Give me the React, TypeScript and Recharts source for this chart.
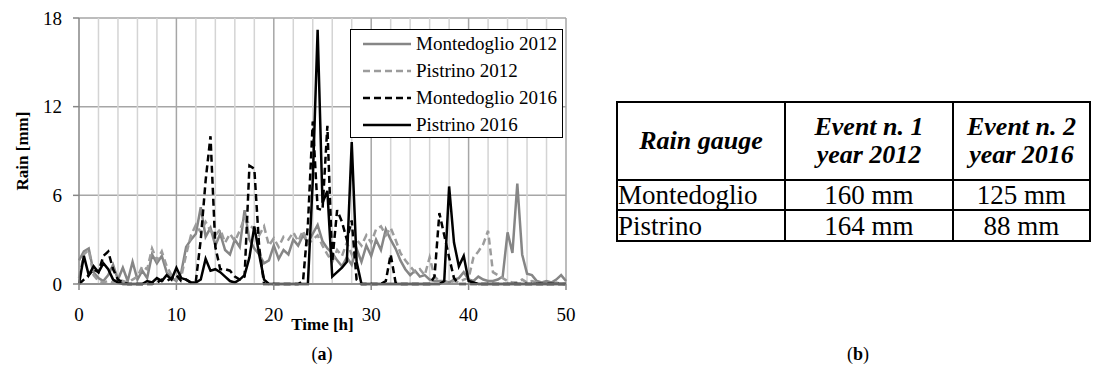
import React from 'react';
import { LineChart, Line, XAxis, YAxis, CartesianGrid, ReferenceLine, Legend, Label } from 'recharts';

const serif = '"Liberation Serif", Tinos, "Times New Roman", Times, "DejaVu Serif", serif';

// time in hours, half-hour steps
const hours = [
  0, 0.5, 1, 1.5, 2, 2.5, 3, 3.5, 4, 4.5,
  5, 5.5, 6, 6.5, 7, 7.5, 8, 8.5, 9, 9.5,
  10, 10.5, 11, 11.5, 12, 12.5, 13, 13.5, 14, 14.5,
  15, 15.5, 16, 16.5, 17, 17.5, 18, 18.5, 19, 19.5,
  20, 20.5, 21, 21.5, 22, 22.5, 23, 23.5, 24, 24.5,
  25, 25.5, 26, 26.5, 27, 27.5, 28, 28.5, 29, 29.5,
  30, 30.5, 31, 31.5, 32, 32.5, 33, 33.5, 34, 34.5,
  35, 35.5, 36, 36.5, 37, 37.5, 38, 38.5, 39, 39.5,
  40, 40.5, 41, 41.5, 42, 42.5, 43, 43.5, 44, 44.5,
  45, 45.5, 46, 46.5, 47, 47.5, 48, 48.5, 49, 49.5, 50,
];

const montedoglio2012 = [
  1.6, 2.2, 2.4, 0.8, 0.4, 0.2, 0.6, 1.3, 0.3, 1.1,
  0.2, 1.5, 0.3, 0.9, 0.4, 2.0, 1.4, 1.9, 0.8, 0.4,
  0.2, 0.8, 2.5, 3.0, 3.4, 5.2, 3.2, 3.8, 2.6, 3.4,
  2.3, 2.0, 3.0, 2.5, 5.0, 3.0, 2.4, 2.0, 1.4, 1.6,
  2.6, 1.7, 2.3, 2.0, 3.0, 2.6, 3.3, 2.8, 3.4, 4.0,
  2.9, 2.4, 2.1, 1.6, 1.2, 1.8, 1.3, 2.4, 1.5, 2.6,
  1.9, 3.0, 2.3, 3.7, 3.0, 2.4, 1.6, 1.0, 0.6, 0.9,
  0.5, 0.6, 0.3, 0.2, 0.2, 0.2, 0.1, 0.3, 0.4, 0.8,
  0.3, 0.2, 0.5, 0.3, 0.2, 0.2, 0.3, 0.5, 3.5, 2.1,
  6.8, 2.0, 0.7, 0.6, 0.2, 0.1, 0.2, 0.1, 0.3, 0.6, 0.2,
];

const pistrino2012 = [
  0.4, 2.0, 2.3, 0.6, 0.2, 0.1, 0.2, 0.1, 0.3, 0.2,
  0.1, 0.3, 0.5, 1.2, 1.0, 2.4, 1.6, 2.2, 1.2, 0.6,
  0.3, 0.5, 2.0, 3.3, 4.0, 3.5, 4.2, 3.6, 3.3, 3.7,
  2.8, 3.4, 2.9, 3.6, 4.5, 4.0, 3.7, 3.3, 3.9, 2.6,
  3.1, 2.5, 3.2, 3.0, 3.5, 2.9, 3.6, 2.7, 3.0, 3.3,
  2.6, 2.0, 1.5, 2.3, 1.9, 2.8, 2.0, 3.0, 2.6, 3.3,
  2.8, 3.7, 3.9, 3.3, 3.8, 3.0, 2.1, 1.6, 1.2, 0.8,
  1.0, 0.6, 1.8, 0.5, 0.2, 0.1, 0.1, 0.2, 0.1, 0.3,
  0.4, 1.8, 2.2, 2.7, 3.6, 0.8, 0.6, 0.4, 0.2, 0.1,
  0.1, 0.3, 0.1, 0.2, 0.1, 0.1, 0, 0, 0.1, 0, 0,
];

const montedoglio2016 = [
  0, 0.3, 0.6, 1.0, 0.8, 1.9, 2.2, 1.0, 0.3, 0.1,
  0, 0, 0, 0, 0, 0, 0.1, 0.3, 0.2, 0.4,
  0.6, 0.2, 0.3, 0.1, 0.2, 3.0, 7.0, 10.0, 2.5, 1.0,
  1.0, 0.9, 0.5, 0.3, 0.5, 8.0, 7.8, 2.5, 0, 0,
  0, 0, 0, 0, 0, 0, 0.2, 4.0, 11.0, 5.1,
  5.0, 10.7, 1.5, 5.0, 4.2, 3.0, 4.3, 0.3, 0, 0,
  0, 0, 0, 0.2, 2.0, 0.1, 0, 0, 0, 0,
  0, 0, 0, 0.5, 4.8, 3.3, 1.8, 0.4, 0, 0,
  0, 0, 0, 0, 0, 0, 0, 0, 0, 0,
  0, 0, 0, 0, 0, 0, 0, 0, 0, 0, 0,
];

const pistrino2016 = [
  0, 1.9, 0.6, 1.2, 0.8, 1.4, 1.0, 0.3, 0.1, 0,
  0, 0, 0, 0, 0.2, 0.1, 0.4, 0.2, 0.6, 0.3,
  1.1, 0.4, 0.3, 0.1, 0.1, 0.3, 1.7, 0.9, 1.0, 0.8,
  0.5, 0.2, 0.1, 0.3, 0.6, 1.8, 3.9, 2.0, 0.3, 0,
  0, 0, 0, 0, 0, 0, 0, 0, 7.0, 17.2,
  5.5, 6.3, 0.5, 0.8, 1.1, 1.5, 9.6, 1.5, 0, 0,
  0, 0, 0, 0, 0, 0, 0, 0, 0, 0,
  0, 0, 0, 0, 0, 0.2, 6.6, 2.8, 1.2, 1.9,
  0.2, 0.1, 0, 0, 0, 0, 0, 0, 0, 0,
  0, 0, 0, 0, 0, 0, 0, 0, 0, 0, 0,
];

const xTicks = [0, 10, 20, 30, 40, 50];
const yTicks = [0, 6, 12, 18];
const minorGrid = [2, 4, 6, 8, 12, 14, 16, 18, 22, 24, 26, 28, 32, 34, 36, 38, 42, 44, 46, 48];
const majorGrid = [10, 20, 30, 40, 50];

const gauges = ['Rain gauge', 'Montedoglio', 'Pistrino'];
const event2012 = ['160 mm', '164 mm'];
const event2016 = ['125 mm', '88 mm'];

const series = [
  { key: 'm12', name: 'Montedoglio 2012', color: '#868686', dash: undefined },
  { key: 'p12', name: 'Pistrino 2012', color: '#9c9c9c', dash: '7 4' },
  { key: 'm16', name: 'Montedoglio 2016', color: '#000000', dash: '7 4' },
  { key: 'p16', name: 'Pistrino 2016', color: '#000000', dash: undefined },
];

const data = hours.map((h, i) => ({
  h,
  m12: montedoglio2012[i],
  p12: pistrino2012[i],
  m16: montedoglio2016[i],
  p16: pistrino2016[i],
}));

const LegendBox = () => (
  <div style={{
    border: '1px solid #000', background: '#fff', width: 213, height: 109,
    boxSizing: 'border-box', paddingLeft: 12, fontFamily: serif, fontSize: 19, color: '#000',
  }}>
    {series.map(s => (
      <div key={s.key} style={{ display: 'flex', alignItems: 'center', height: 27 }}>
        <svg width={48} height={6} style={{ display: 'block' }}>
          <line x1={0} y1={3} x2={48} y2={3} stroke={s.color} strokeWidth={2.5} strokeDasharray={s.dash} />
        </svg>
        <span style={{ marginLeft: 5, whiteSpace: 'nowrap' }}>{s.name}</span>
      </div>
    ))}
  </div>
);

const TimeLabel = (props: any) => {
  const vb = props.viewBox;
  return (
    <text x={vb.x + vb.width / 2} y={vb.y + 46} textAnchor="middle" style={{ fontFamily: serif }} fontSize={17} fontWeight="bold" fill="#000">
      Time [h]
    </text>
  );
};

const RainLabel = (props: any) => {
  const vb = props.viewBox;
  const cy = vb.y + vb.height / 2;
  return (
    <text x={22} y={cy} transform={`rotate(-90, 22, ${cy})`} textAnchor="middle" dominantBaseline="central"
      style={{ fontFamily: serif }} fontSize={17} fontWeight="bold" fill="#000">
      Rain [mm]
    </text>
  );
};

const cell: React.CSSProperties = { border: '2px solid #000', padding: 0, textAlign: 'center' };

export default function App() {
  return (
    <div style={{ position: 'absolute', left: 0, top: 0, width: 1095, height: 378, background: '#fff', fontFamily: serif }}>
      <div style={{ position: 'absolute', left: 0, top: 0 }}>
        <LineChart width={600} height={340} data={data} margin={{ top: 18, right: 34, left: 0, bottom: 16 }}
          style={{ fontFamily: serif }}>
          <CartesianGrid vertical={false} stroke="#a6a6a6" strokeWidth={1.5} />
          {minorGrid.map(v => (
            <ReferenceLine key={'n' + v} x={v} stroke="#d4d4d4" strokeWidth={1.5} />
          ))}
          {majorGrid.map(v => (
            <ReferenceLine key={'j' + v} x={v} stroke="#a6a6a6" strokeWidth={1.5} />
          ))}
          <XAxis dataKey="h" type="number" domain={[0, 50]} ticks={xTicks} height={40}
            stroke="#868686" strokeWidth={1.5} tickSize={6} tickMargin={18}
            tick={{ fill: '#000', fontSize: 19, style: { fontFamily: serif } }}>
            <Label content={TimeLabel} />
          </XAxis>
          <YAxis type="number" domain={[0, 18]} ticks={yTicks} width={79}
            stroke="#868686" strokeWidth={1.5} tickSize={6} tickMargin={11}
            tick={{ fill: '#000', fontSize: 19, style: { fontFamily: serif } }}>
            <Label content={RainLabel} />
          </YAxis>
          <Legend layout="vertical" align="center" verticalAlign="middle" content={<LegendBox />}
            wrapperStyle={{ left: 350, top: 29, width: 213, height: 109 }} />
          {series.map(s => (
            <Line key={s.key} type="linear" dataKey={s.key} name={s.name} stroke={s.color} strokeWidth={2.5}
              strokeDasharray={s.dash} dot={false} activeDot={false} isAnimationActive={false} />
          ))}
        </LineChart>
      </div>

      <table style={{
        position: 'absolute', left: 616, top: 101, borderCollapse: 'collapse',
        fontFamily: serif, fontSize: 27, color: '#000', lineHeight: '28px',
      }}>
        <tbody>
          <tr style={{ height: 78 }}>
            <td style={{ ...cell, width: 166, fontSize: 26, fontWeight: 'bold', fontStyle: 'italic' }}>{gauges[0]}</td>
            <td style={{ ...cell, width: 166, fontSize: 26, fontWeight: 'bold', fontStyle: 'italic' }}>Event n. 1<br />year 2012</td>
            <td style={{ ...cell, width: 135, fontSize: 26, fontWeight: 'bold', fontStyle: 'italic' }}>Event n. 2<br />year 2016</td>
          </tr>
          <tr style={{ height: 29 }}>
            <td style={{ ...cell, textAlign: 'left' }}>{gauges[1]}</td>
            <td style={cell}>{event2012[0]}</td>
            <td style={cell}>{event2016[0]}</td>
          </tr>
          <tr style={{ height: 31 }}>
            <td style={{ ...cell, textAlign: 'left' }}>{gauges[2]}</td>
            <td style={cell}>{event2012[1]}</td>
            <td style={cell}>{event2016[1]}</td>
          </tr>
        </tbody>
      </table>

      <div style={{ position: 'absolute', left: 302, top: 344, width: 40, textAlign: 'center', fontSize: 18 }}>
        (<b>a</b>)
      </div>
      <div style={{ position: 'absolute', left: 838, top: 344, width: 40, textAlign: 'center', fontSize: 18 }}>
        (<b>b</b>)
      </div>
    </div>
  );
}
